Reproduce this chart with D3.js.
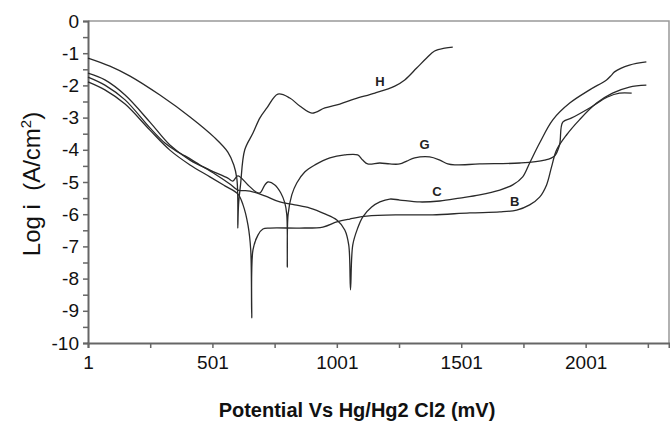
<!DOCTYPE html>
<html>
<head>
<meta charset="utf-8">
<script src="https://cdn.jsdelivr.net/npm/d3@7"></script>
<style>
  body { margin: 0; background: #fff; }
  svg { display: block; font-family: "Liberation Sans", Arial, sans-serif; }
</style>
</head>
<body>
<script>
const width = 670;
const height = 423;

// curves: [potential mV, log i]
const seriesH = [[1,-1.15],[89,-1.40],[170,-1.71],[290,-2.30],[411,-2.98],[511,-3.63],[563,-4.07],[587,-4.47],[599,-4.88],[603,-5.56],[603,-6.43],[606,-5.71],[614,-5.09],[631,-4.0],[664,-3.48],[692,-3.01],[720,-2.70],[764,-2.27],[812,-2.39],[852,-2.64],[901,-2.86],[953,-2.70],[1013,-2.58],[1073,-2.42],[1154,-2.24],[1234,-2.02],[1274,-1.83],[1322,-1.46],[1362,-1.15],[1394,-0.93],[1435,-0.84],[1467,-0.81]];

const seriesG = [[1,-1.62],[69,-1.83],[150,-2.30],[250,-3.14],[330,-3.85],[411,-4.32],[491,-4.63],[563,-4.88],[583,-4.97],[603,-4.81],[644,-5.09],[676,-5.31],[692,-5.34],[712,-5.09],[724,-5.0],[752,-5.09],[776,-5.34],[792,-5.65],[800,-6.02],[802,-7.64],[805,-6.02],[820,-5.40],[840,-5.03],[872,-4.69],[913,-4.47],[973,-4.25],[1033,-4.16],[1085,-4.16],[1105,-4.32],[1125,-4.44],[1174,-4.41],[1214,-4.44],[1254,-4.44],[1282,-4.35],[1314,-4.25],[1374,-4.22],[1415,-4.32],[1447,-4.44],[1475,-4.47],[1575,-4.44],[1736,-4.41],[1836,-4.32],[1876,-4.19],[1896,-3.85],[1909,-3.14],[1945,-3.01],[2017,-2.70],[2089,-2.36],[2137,-2.24],[2186,-2.24]];

const seriesC = [[1,-1.74],[69,-1.99],[150,-2.45],[250,-3.32],[310,-3.79],[350,-4.01],[391,-4.19],[451,-4.47],[511,-4.75],[571,-5.06],[603,-5.25],[652,-5.28],[712,-5.43],[772,-5.62],[832,-5.71],[893,-5.81],[953,-5.99],[1001,-6.18],[1033,-6.49],[1049,-6.96],[1056,-8.35],[1065,-6.96],[1085,-6.43],[1105,-6.09],[1141,-5.78],[1174,-5.62],[1214,-5.53],[1254,-5.56],[1334,-5.62],[1415,-5.59],[1495,-5.50],[1575,-5.40],[1656,-5.25],[1708,-5.09],[1748,-4.84],[1776,-4.41],[1816,-3.79],[1869,-3.07],[1937,-2.55],[2017,-2.14],[2085,-1.83],[2105,-1.68],[2117,-1.58],[2177,-1.37],[2245,-1.27]];

const seriesB = [[1,-1.89],[69,-2.14],[150,-2.58],[250,-3.39],[330,-4.01],[411,-4.47],[491,-4.84],[551,-5.12],[603,-5.37],[624,-5.71],[644,-6.34],[655,-7.11],[659,-9.22],[664,-7.11],[684,-6.65],[704,-6.46],[732,-6.43],[852,-6.43],[945,-6.40],[1001,-6.24],[1053,-6.15],[1121,-6.06],[1254,-6.02],[1386,-6.02],[1535,-5.96],[1656,-5.93],[1724,-5.87],[1776,-5.71],[1816,-5.47],[1844,-5.09],[1864,-4.53],[1884,-4.01],[1924,-3.54],[1976,-3.07],[2045,-2.55],[2109,-2.24],[2177,-2.05],[2245,-1.99]];

const curveNames = ["H", "G", "C", "B"];
const curveLabelPos = [[1174,-1.89], [1354,-3.85], [1403,-5.31], [1716,-5.62]]; // where the letter sits

const xTickLabels = [1, 501, 1001, 1501, 2001];
const xMinorTicks = [1, 251, 501, 751, 1001, 1251, 1501, 1751, 2001, 2251];
const yTickLabels = [0, -1, -2, -3, -4, -5, -6, -7, -8, -9, -10];
const yMinorTicks = d3.range(0, -10.01, -0.5);

const margin = { top: 21, right: 1, bottom: 80, left: 88 };

const svg = d3.select("body").append("svg")
  .attr("width", width)
  .attr("height", height);

const x = d3.scaleLinear().domain([1, 2336]).range([margin.left, width - margin.right]);
const y = d3.scaleLinear().domain([-10, 0]).range([height - margin.bottom, margin.top]);

// frame (top + right)
svg.append("path")
  .attr("d", `M${x(1)},${y(0)}H${x(2336)}V${y(-10)}`)
  .attr("fill", "none")
  .attr("stroke", "#999")
  .attr("stroke-width", 1.5);

// y axis
const yAxis = svg.append("g")
  .attr("transform", `translate(${margin.left},0)`)
  .call(d3.axisLeft(y).tickValues(yMinorTicks).tickSize(5).tickFormat(d => yTickLabels.includes(d) ? d : ""));
yAxis.select(".domain").attr("stroke", "#666").attr("stroke-width", 2);
yAxis.selectAll(".tick line").attr("stroke", "#666").attr("stroke-width", 1.5);
yAxis.selectAll(".tick text")
  .attr("x", -9)
  .attr("font-size", 19)
  .attr("font-family", "Liberation Sans, Arial, sans-serif")
  .attr("fill", "#111");

// x axis
const xAxis = svg.append("g")
  .attr("transform", `translate(0,${y(-10)})`)
  .call(d3.axisBottom(x).tickValues(xMinorTicks).tickSize(5).tickFormat(d => xTickLabels.includes(d) ? d : ""));
xAxis.select(".domain").attr("stroke", "#666").attr("stroke-width", 2);
xAxis.selectAll(".tick line").attr("stroke", "#666").attr("stroke-width", 1.5);
xAxis.selectAll(".tick text")
  .attr("y", 13)
  .attr("font-size", 19)
  .attr("font-family", "Liberation Sans, Arial, sans-serif")
  .attr("fill", "#111");

// curves
const line = d3.line()
  .x(d => x(d[0]))
  .y(d => y(d[1]))
  .curve(d3.curveCatmullRom.alpha(0.5));

const allSeries = [seriesH, seriesG, seriesC, seriesB];
svg.append("g")
  .selectAll("path")
  .data(allSeries)
  .join("path")
  .attr("d", line)
  .attr("fill", "none")
  .attr("stroke", "#2a2a2a")
  .attr("stroke-width", 1.3)
  .attr("stroke-linejoin", "round");

svg.append("g")
  .selectAll("text")
  .data(curveNames)
  .join("text")
  .attr("x", (d, i) => x(curveLabelPos[i][0]))
  .attr("y", (d, i) => y(curveLabelPos[i][1]))
  .attr("text-anchor", "middle")
  .attr("dominant-baseline", "central")
  .attr("font-size", 13)
  .attr("font-weight", "bold")
  .attr("fill", "#222")
  .text(d => d);

// axis titles
svg.append("text")
  .attr("x", 357)
  .attr("y", 417)
  .attr("text-anchor", "middle")
  .attr("font-size", 20)
  .attr("font-weight", "bold")
  .attr("fill", "#111")
  .text("Potential Vs Hg/Hg2 Cl2 (mV)");

const yTitle = svg.append("text")
  .attr("transform", "translate(40,184) rotate(-90)")
  .attr("text-anchor", "middle")
  .attr("font-size", 24)
  .attr("fill", "#111");
yTitle.append("tspan").text("Log i\u00a0\u00a0(A/cm");
yTitle.append("tspan").attr("font-size", 15).attr("dy", -9).text("2");
yTitle.append("tspan").attr("dy", 9).text(")");
</script>
</body>
</html>
